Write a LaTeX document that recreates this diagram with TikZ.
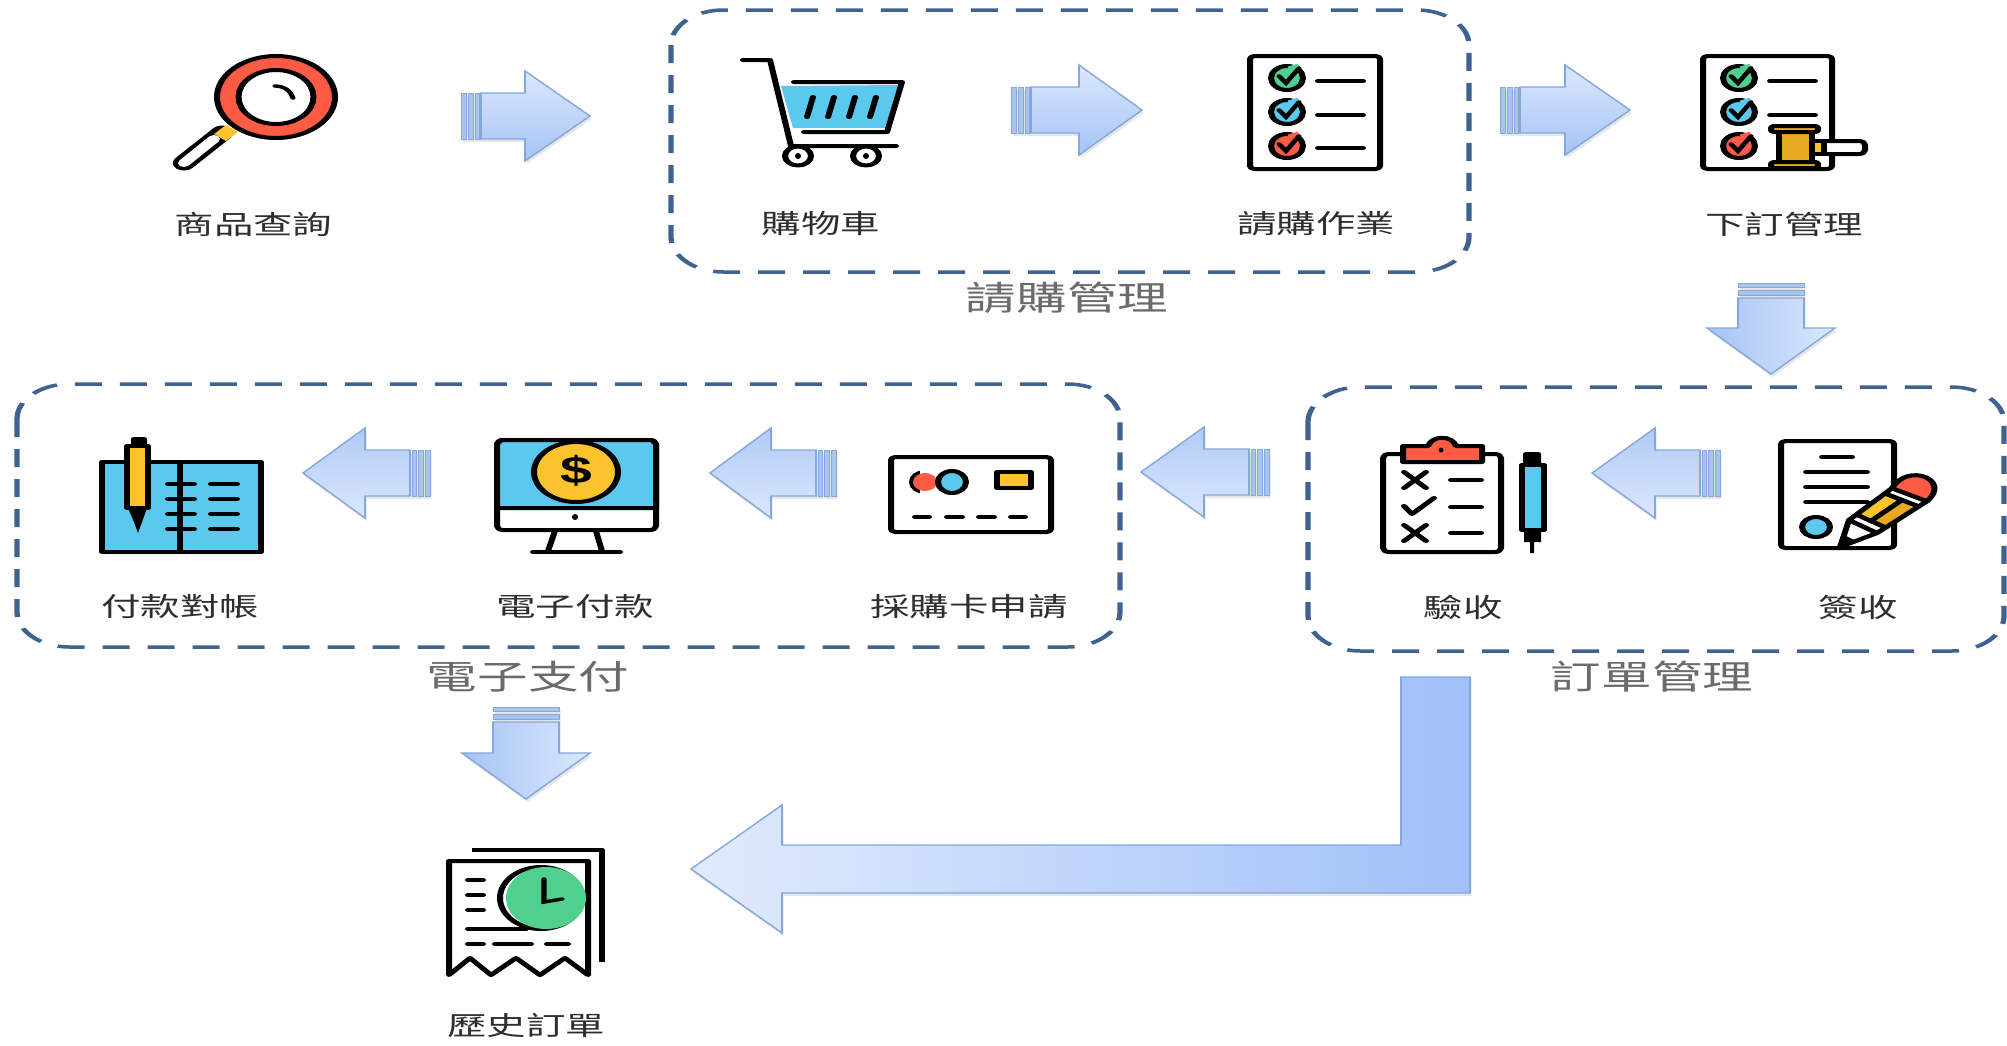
\documentclass[tikz,border=0pt]{standalone}
\usepackage{fontspec}
\newfontfamily\cjk{Noto Sans CJK TC}
\newfontfamily\latinb{Liberation Sans}
\definecolor{iconred}{HTML}{FF5B45}
\definecolor{iconblue}{HTML}{5BC8EE}
\definecolor{iconyellow}{HTML}{FDC32D}
\definecolor{iconorange}{HTML}{E8A922}
\definecolor{icongreen}{HTML}{4FD08F}
\definecolor{boxline}{HTML}{3F6391}
\definecolor{arrowline}{HTML}{84A8DC}
\definecolor{arrowlight}{HTML}{DCE7FD}
\definecolor{arrowdark}{HTML}{A6C4F6}
\definecolor{arrowdeep}{HTML}{A0C0F8}
\definecolor{stripefill}{HTML}{A9C5EE}
\tikzset{
  groupbox/.style={draw=boxline,line width=3.5pt,dash pattern=on 18pt off 12pt,rounded corners=35pt},
  icon/.style={draw=black,line width=4pt,line join=round,line cap=round},
  thinblack/.style={draw=black,line width=3.4pt,line cap=round},
  itemlabel/.style={font=\cjk\fontsize{26.3pt}{28pt}\selectfont,text=black!82,inner sep=0pt},
  grouplabel/.style={font=\cjk\fontsize{33.7pt}{35pt}\selectfont,text=black!58,inner sep=0pt},
  arrowedge/.style={draw=arrowline,line width=1.2pt,line join=miter},
  stripe/.style={fill=stripefill,draw=arrowline,line width=.6pt},
  arrowshadow/.style={fill=black!35,opacity=.28},
}
% horizontal block arrow: tail x, head base x, tip x, centre y
\newcommand\blockH[4]{%
  \pgfmathsetmacro\dirn{(#3>#1)?1:-1}%
  \pgfmathsetmacro\bodyx{#1+\dirn*20}%
  \pgfmathsetmacro\sa{#1+\dirn*5}\pgfmathsetmacro\sb{#1+\dirn*7}\pgfmathsetmacro\sc{#1+\dirn*12}%
  \pgfmathsetmacro\sd{#1+\dirn*14}\pgfmathsetmacro\se{#1+\dirn*18}%
  \path[arrowshadow,shift={(1.5,3)}] (#3,#4) -- (#2,#4-45) -- (#2,#4-23) -- (#1,#4-23) -- (#1,#4+23) -- (#2,#4+23) -- (#2,#4+45) -- cycle;
  \ifdim\dirn pt>0pt
    \draw[arrowedge,top color=arrowlight,bottom color=arrowdark] (#3,#4) -- (#2,#4-45) -- (#2,#4-23) -- (\bodyx,#4-23) -- (\bodyx,#4+23) -- (#2,#4+23) -- (#2,#4+45) -- cycle;
  \else
    \draw[arrowedge,top color=arrowdark!80!arrowlight,bottom color=arrowlight] (#3,#4) -- (#2,#4-45) -- (#2,#4-23) -- (\bodyx,#4-23) -- (\bodyx,#4+23) -- (#2,#4+23) -- (#2,#4+45) -- cycle;
  \fi
  \filldraw[stripe] (#1,#4-23) rectangle (\sa,#4+23);
  \filldraw[stripe] (\sb,#4-23) rectangle (\sc,#4+23);
  \filldraw[stripe] (\sd,#4-23) rectangle (\se,#4+23);
}
% downward block arrow: centre x, top y, head base y, tip y
\newcommand\blockD[4]{%
  \path[arrowshadow,shift={(1.5,3)}] (#1,#4) -- (#1-64,#3) -- (#1-33,#3) -- (#1-33,#2) -- (#1+33,#2) -- (#1+33,#3) -- (#1+64,#3) -- cycle;
  \draw[arrowedge,left color=arrowdark,right color=arrowlight] (#1,#4) -- (#1-64,#3) -- (#1-33,#3) -- (#1-33,#2+15) -- (#1+33,#2+15) -- (#1+33,#3) -- (#1+64,#3) -- cycle;
  \filldraw[stripe] (#1-33,#2) rectangle (#1+33,#2+4);
  \filldraw[stripe] (#1-33,#2+7) rectangle (#1+33,#2+12);
}
% ticked round bullet
\newcommand\checkitem[3]{%
  \begin{scope}[shift={(#1,#2)}]
    \draw[icon,fill=#3] (0,0) ellipse [x radius=16,y radius=12];
    \draw[#3,line width=5pt] (2,-9) -- (12,-12);
    \draw[thinblack] (-8,-2) -- (-1,5) -- (12,-10);
  \end{scope}
}
\begin{document}
\begin{tikzpicture}[x=1pt,y=-1pt]
\useasboundingbox (0,0) rectangle (2007,1045);
\begin{scope}[transform canvas={xscale=1.5},x=0.666667pt,y=-1pt]

% group frames
\draw[groupbox] (671,10) rectangle (1469,272);
\draw[groupbox] (17,384) rectangle (1120,647);
\draw[groupbox] (1308,387) rectangle (2004,651);

% block arrows
\blockH{461}{525}{590}{116}
\blockH{1011}{1079}{1142}{110}
\blockH{1500}{1565}{1630}{110}
\blockD{1771}{283}{328}{374}
\blockH{1720}{1655}{1592}{473}
\blockH{1269}{1204}{1141}{472}
\blockH{836}{771}{710}{473}
\blockH{430}{365}{303}{473}
\blockD{526}{707}{753}{799}
\path[arrowshadow,shift={(1.5,3)}] (691,869) -- (782,805) -- (782,845) -- (1401,845) -- (1401,677) -- (1470,677) -- (1470,893) -- (782,893) -- (782,933) -- cycle;
\draw[arrowedge,left color=arrowlight!85!white,right color=arrowdeep] (691,869) -- (782,805) -- (782,845) -- (1401,845) -- (1401,677) -- (1470,677) -- (1470,893) -- (782,893) -- (782,933) -- cycle;

% magnifier
\draw[black,line width=15pt,line cap=round] (184,163) -- (222,133);
\draw[white,line width=8pt,line cap=round] (184,163) -- (214,139);
\fill[iconyellow] (214,134) -- (226,125) -- (238,132) -- (226,141) -- cycle;
\draw[icon,fill=iconred] (276,97) ellipse [x radius=59,y radius=41];
\draw[icon,fill=white] (276,97) ellipse [x radius=37.5,y radius=27];
\draw[thinblack] (275,86) .. controls (284,86) and (291,91) .. (293,98);

% cart
\fill[iconblue] (781,86) -- (898,85) -- (885,128) -- (793,128) -- cycle;
\draw[icon] (743,60) -- (770,60) -- (791,146) -- (896,146);
\draw[icon] (794,82) -- (902,82) -- (887,132) -- (804,132);
\foreach \bx in {809,830,851,872}
  \draw[icon] (\bx+4,97) -- (\bx-2,117);
\draw[icon,fill=white] (798,156) ellipse [x radius=13,y radius=9.5];
\draw[icon,fill=white] (866,156) ellipse [x radius=13,y radius=9.5];
\fill (798,156) ellipse [x radius=3,y radius=3];
\fill (866,156) ellipse [x radius=3,y radius=3];

% checklist
\draw[icon,fill=white,rounded corners=3pt] (1250,56) rectangle (1380,169);
\checkitem{1287}{78}{icongreen}
\checkitem{1287}{112}{iconblue}
\checkitem{1287}{146}{iconred}
\draw[icon] (1318,81) -- (1363,81);
\draw[icon] (1318,115) -- (1363,115);
\draw[icon] (1318,148) -- (1363,148);

% checklist with gavel
\draw[icon,fill=white,rounded corners=3pt] (1703,56) rectangle (1832,169);
\checkitem{1739}{78}{icongreen}
\checkitem{1739}{112}{iconblue}
\checkitem{1739}{146}{iconred}
\draw[icon] (1770,81) -- (1815,81);
\draw[icon] (1770,115) -- (1815,115);
\draw[icon,fill=white,rounded corners=4pt] (1822,141) rectangle (1865,154);
\draw[icon,fill=iconyellow] (1811,141) rectangle (1824,154);
\draw[icon,fill=iconorange] (1779,131) rectangle (1812,163);
\draw[icon,fill=iconorange,rounded corners=2pt] (1771,126) rectangle (1818,132);
\draw[icon,fill=iconorange,rounded corners=2pt] (1771,162) rectangle (1818,168);

% purchase card
\draw[icon,fill=white,rounded corners=3pt] (891,457) rectangle (1051,532);
\draw[icon,fill=iconred] (925,482) ellipse [x radius=13,y radius=10];
\fill[white] (920,470) rectangle (940,495);
\fill[iconred] (925,482) ellipse [x radius=12,y radius=9];
\draw[icon,fill=iconblue] (952,482) ellipse [x radius=14,y radius=11];
\draw[icon,fill=iconyellow] (997,472) rectangle (1031,488);
\foreach \da/\db in {915/929,947/962,979/994,1011/1025}
  \draw[icon] (\da,517) -- (\db,517);

% monitor
\draw[icon,fill=white,rounded corners=4pt] (497,440) rectangle (656,530);
\draw[icon,fill=iconblue] (497,508) -- (497,444) -- (501,440) -- (652,440) -- (656,444) -- (656,508) -- cycle;
\draw[icon,fill=iconyellow] (576,472) ellipse [x radius=42,y radius=30];
\node[font=\latinb\bfseries\fontsize{38pt}{40pt}\selectfont,inner sep=0pt,text=black] (dollar) at (576,471) {\$};
\fill (575,517) ellipse [x radius=3,y radius=3];
\draw[icon] (555,531) -- (548,551);
\draw[icon] (596,531) -- (602,551);
\draw[icon] (533,552) -- (620,552);

% ledger
\draw[icon,fill=iconblue,line cap=butt] (102,462) rectangle (261,552);
\draw[icon] (180,462) -- (180,552);
\foreach \ly in {484,499,514,529} {
  \draw[icon] (168,\ly) -- (194,\ly);
  \draw[icon] (211,\ly) -- (237,\ly);
}
\fill[black,rounded corners=2pt] (131,437) rectangle (147,448);
\draw[icon,fill=iconyellow] (127,446) rectangle (148,508);
\fill (128,508) -- (147,508) -- (142,522) -- (138,533) -- (134,522) -- cycle;

% clipboard
\draw[icon,fill=white,rounded corners=4pt] (1383,454) rectangle (1501,552);
\draw[icon,fill=iconred] (1403,462) -- (1403,446) -- (1428,446) .. controls (1432,435) and (1452,435) .. (1456,446) -- (1482,446) -- (1482,462) -- cycle;
\fill (1441,450) ellipse [x radius=2.5,y radius=2.5];
\draw[icon] (1404,472) -- (1426,488);
\draw[icon] (1426,472) -- (1404,488);
\draw[icon] (1404,525) -- (1426,541);
\draw[icon] (1426,525) -- (1404,541);
\draw[icon] (1404,506) -- (1412,514) -- (1434,498);
\draw[icon] (1451,480) -- (1481,480);
\draw[icon] (1451,507) -- (1481,507);
\draw[icon] (1451,533) -- (1481,533);
\fill[black,rounded corners=2pt] (1523,452) rectangle (1541,466);
\draw[icon,fill=iconblue] (1522,465) rectangle (1544,530);
\fill (1524,530) -- (1541,530) -- (1541,542) -- (1534,542) -- (1534,553) -- (1530,553) -- (1530,542) -- (1524,542) -- cycle;

% signed document
\draw[icon,fill=white,rounded corners=3pt] (1781,441) rectangle (1894,548);
\draw[icon] (1822,457) -- (1852,457);
\draw[icon] (1806,472) -- (1867,472);
\draw[icon] (1806,487) -- (1867,487);
\draw[icon] (1806,502) -- (1867,502);
\draw[icon,fill=iconblue] (1816,527) ellipse [x radius=14,y radius=10];
\draw[icon,fill=white] (1840,547) -- (1849,520) -- (1877,533) -- cycle;
\fill (1839,548) -- (1844,535) -- (1856,541) -- cycle;
\draw[icon,fill=white] (1849,520) -- (1856.5,514.5) -- (1885.7,527.5) -- (1877,533) -- cycle;
\draw[icon,fill=iconyellow] (1856.5,514.5) -- (1885,493.4) -- (1902,500) -- (1871,521) -- cycle;
\draw[icon,fill=iconorange] (1871,521) -- (1902,500) -- (1918.8,506.4) -- (1885.7,527.5) -- cycle;
\draw[icon,fill=white] (1885,493.4) -- (1892,488.2) -- (1926.9,501.2) -- (1918.8,506.4) -- cycle;
\draw[icon,fill=iconred] (1892,488.2) .. controls (1908,462) and (1952,480) .. (1926.9,501.2) -- cycle;

% receipts
\draw[icon,line cap=butt] (472,850) -- (602,850) -- (602,962);
\draw[icon,fill=white] (449,861) -- (588,861) -- (588,975) -- (565,958) -- (540,975) -- (516,958) -- (491,975) -- (470,958) -- (449,975) -- cycle;
\draw[icon] (468,880) -- (483,880);
\draw[icon] (468,895) -- (483,895);
\draw[icon] (468,910) -- (483,910);
\draw[icon] (468,929) -- (526,929);
\draw[icon] (468,944) -- (483,944);
\draw[icon] (495,944) -- (531,944);
\draw[icon] (547,944) -- (568,944);
\draw[icon,fill=white] (541,898) ellipse [x radius=41,y radius=31];
\fill[icongreen] (546,898) ellipse [x radius=40,y radius=31];
\draw[thinblack] (544,879) -- (544,902) -- (562,899);

% item labels
\node[itemlabel] (chaxun) at (253.5,224) {商品查詢};
\node[itemlabel] (cart) at (821,224) {購物車};
\node[itemlabel] (qinggou) at (1316,224) {請購作業};
\node[itemlabel] (xiading) at (1784,224) {下訂管理};
\node[itemlabel] (duizhang) at (180,607) {付款對帳};
\node[itemlabel] (dianfu) at (575,607) {電子付款};
\node[itemlabel] (card) at (969,607) {採購卡申請};
\node[itemlabel] (yanshou) at (1463,607) {驗收};
\node[itemlabel] (qianshou) at (1858,607) {簽收};
\node[itemlabel] (lishi) at (526,1025) {歷史訂單};

% group labels
\node[grouplabel] (g1) at (1067,298) {請購管理};
\node[grouplabel] (g2) at (528,677) {電子支付};
\node[grouplabel] (g3) at (1652,677) {訂單管理};
\end{scope}
\end{tikzpicture}
\end{document}
